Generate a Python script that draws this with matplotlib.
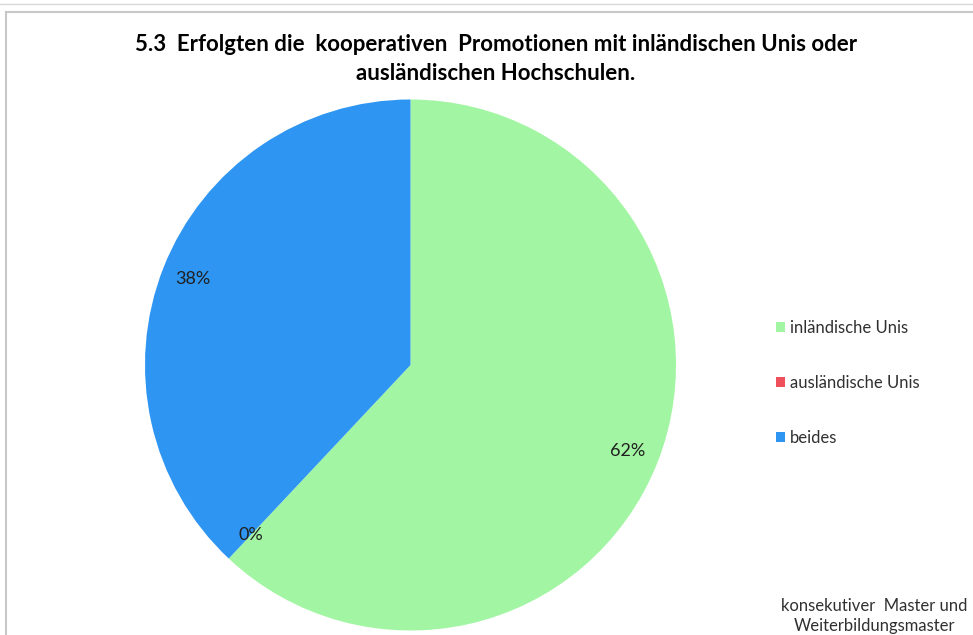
import matplotlib.pyplot as plt
from matplotlib.patches import Patch
from matplotlib.lines import Line2D

# Daten
kategorien = ['inländische Unis', 'ausländische Unis', 'beides']
anteile = [62, 0, 38]
farben = ['#a2f5a2', '#f0505c', '#2e95f2']
titel = ('5.3  Erfolgten die  kooperativen  Promotionen mit inländischen Unis oder\n'
         'ausländischen Hochschulen.')
fusszeile = 'konsekutiver  Master und\nWeiterbildungsmaster'

plt.rcParams['font.family'] = ['Lato', 'DejaVu Sans']

W, H = 973, 635
fig = plt.figure(figsize=(W / 100, H / 100), dpi=100)

# Rahmen
fig.add_artist(Line2D([6 / W, 6 / W], [0, 1 - 12 / H], color='#c8c8c8', lw=1.5))
fig.add_artist(Line2D([6 / W, 1], [1 - 12 / H, 1 - 12 / H], color='#c8c8c8', lw=1.5))
fig.add_artist(Line2D([0, 1], [1 - 4 / H, 1 - 4 / H], color='#d8d8d8', lw=1.0))

# Kreisdiagramm
cx, cy, r = 410.5, 365, 265.5
ax = fig.add_axes([(cx - r) / W, (H - cy - r) / H, 2 * r / W, 2 * r / H])
wedges, texte = ax.pie(anteile, colors=farben, startangle=90, counterclock=False,
                       labels=[f'{a}%' for a in anteile], labeldistance=0.88,
                       wedgeprops=dict(linewidth=0))
for t in texte:
    t.set_fontsize(13)
    t.set_color('#202020')
    t.set_ha('center')
    t.set_va('center')
ax.set_xlim(-1, 1)
ax.set_ylim(-1, 1)
ax.set_aspect('equal')

fig.text(496 / W, 1 - 59 / H, titel, ha='center', va='center', fontsize=16,
         fontweight='bold', linespacing=1.45)

handles = [Patch(facecolor=c, edgecolor='none') for c in farben]
fig.legend(handles, kategorien, loc='center left', bbox_to_anchor=(761 / W, 1 - 383 / H),
           frameon=False, fontsize=12, handlelength=0.55, handleheight=0.55,
           handletextpad=0.3, labelspacing=2.35, labelcolor='#303030')

fig.text(874 / W, 1 - 616 / H, fusszeile, ha='center', va='center', fontsize=12,
         color='#303030', linespacing=1.3)

fig.savefig('out.png', dpi=100)
